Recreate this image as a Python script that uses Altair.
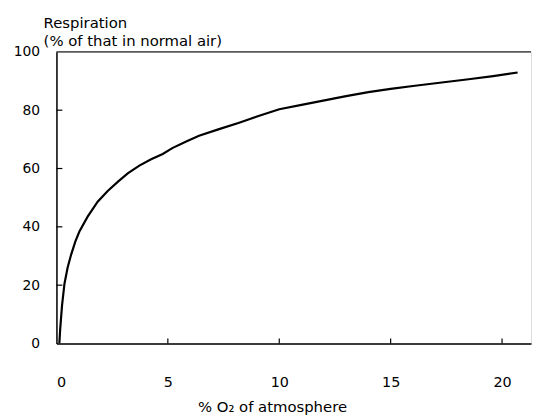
import altair as alt
import pandas as pd

# O2 percentage (x) and respiration % of normal air (y)
o2 = [0.13, 0.17, 0.25, 0.36, 0.5, 0.66, 0.85, 1.03, 1.4, 1.85, 2.3, 2.75, 3.2, 3.72, 4.25, 4.77, 5.2, 5.8, 6.4, 7.3, 8.2, 9.0, 10.0, 11.0, 11.8, 13.0, 14.0, 15.0, 16.0, 17.2, 18.5, 19.6, 20.7]
resp = [0.0, 5.1, 13.0, 20.5, 26.0, 30.5, 35.0, 38.4, 43.5, 48.6, 52.3, 55.4, 58.3, 61.0, 63.2, 65.0, 67.0, 69.2, 71.2, 73.5, 75.7, 77.8, 80.3, 81.8, 83.0, 84.8, 86.2, 87.3, 88.3, 89.4, 90.6, 91.7, 92.9]

x_ticks = [5, 10, 15, 20]
y_ticks = [20, 40, 60, 80]
top_value = [100]

FONT = "DejaVu Sans"
W, H = 480, 295
XMAX = 21.3

curve = pd.DataFrame({"o2": o2, "resp": resp})

xscale = alt.Scale(domain=[0, XMAX], nice=False, zero=False)
yscale = alt.Scale(domain=[0, 100], nice=False)

line = alt.Chart(curve).mark_line(color="black", strokeWidth=2.2, clip=True).encode(
    x=alt.X("o2:Q", scale=xscale,
            axis=alt.Axis(values=[0, 5, 10, 15, 20], title="% O₂ of atmosphere",
                          tickSize=0, labelPadding=32, domainColor="black",
                          domainWidth=1.5, labelFont=FONT, labelFontSize=14.5,
                          labelColor="black", titleFont=FONT, titleFontSize=15,
                          titleFontWeight="normal", titleColor="black",
                          titlePadding=11, titleX=218, grid=False)),
    y=alt.Y("resp:Q", scale=yscale,
            axis=alt.Axis(values=[0, 20, 40, 60, 80, 100], title=None, tickSize=0,
                          labelPadding=17, domainColor="black", domainWidth=1.5,
                          labelFont=FONT, labelFontSize=14, labelColor="black",
                          grid=False)),
)

top_rule = alt.Chart(pd.DataFrame({"v": top_value})).mark_rule(
    color="#222", strokeWidth=1.4).encode(
    y=alt.Y("v:Q", scale=yscale), x=alt.value(0), x2=alt.value(W))

xt = alt.Chart(pd.DataFrame({"t": x_ticks})).mark_rule(color="black", strokeWidth=1.2).encode(
    x=alt.X("t:Q", scale=xscale), y=alt.value(H), y2=alt.value(H - 5))

yt = alt.Chart(pd.DataFrame({"t": y_ticks})).mark_rule(color="black", strokeWidth=1.2).encode(
    y=alt.Y("t:Q", scale=yscale), x=alt.value(0), x2=alt.value(6))

chart = alt.layer(top_rule, xt, yt, line).properties(
    width=W, height=H,
    title=alt.TitleParams(
        text=["Respiration", "(% of that in normal air)"],
        anchor="start", frame="group", dx=-13, font=FONT, fontSize=15,
        fontWeight="normal", color="black", lineHeight=18, offset=-4),
).configure_view(stroke=None).configure(background="white", padding={"left": 5, "top": 6, "right": 0, "bottom": 0})

chart.save("out.html", embed_options={"renderer": "svg", "actions": False})
